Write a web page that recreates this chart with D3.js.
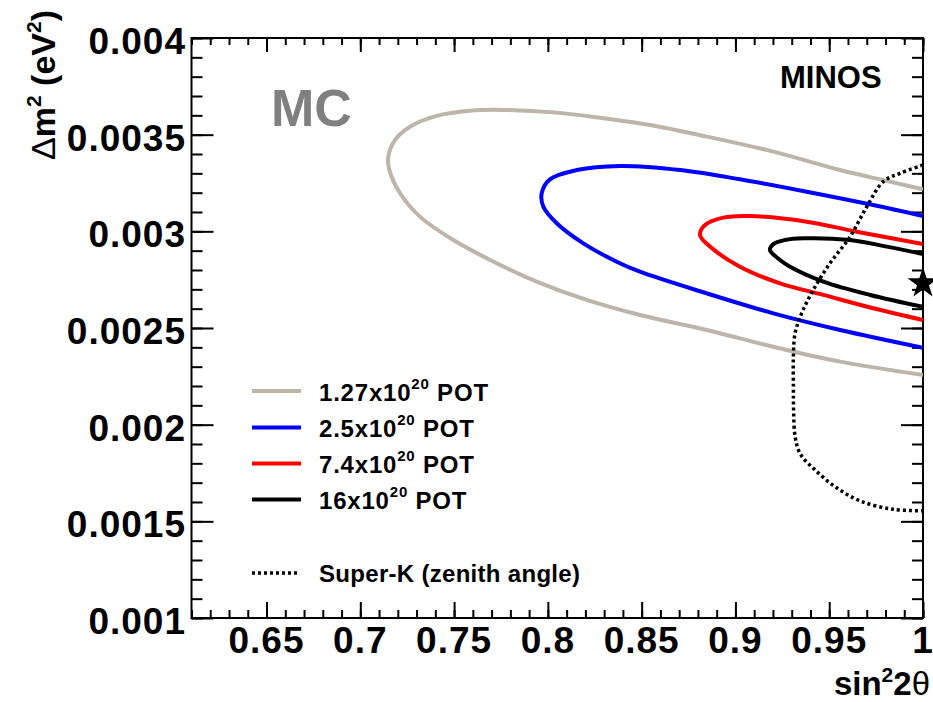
<!DOCTYPE html>
<html>
<head>
<meta charset="utf-8">
<script src="https://cdn.jsdelivr.net/npm/d3@7"></script>
<style>
  body { margin: 0; background: #fff; }
  svg { display: block; font-family: "Liberation Sans", Arial, Helvetica, sans-serif; font-weight: bold; }
</style>
</head>
<body>
<svg id="chart" width="933" height="702"></svg>
<script>
// axis ticks
const xMajor = [0.65, 0.7, 0.75, 0.8, 0.85, 0.9, 0.95, 1]
const xLabels = ['0.65', '0.7', '0.75', '0.8', '0.85', '0.9', '0.95', '1']
const yMajor = [0.001, 0.0015, 0.002, 0.0025, 0.003, 0.0035, 0.004]
const yLabels = ['0.001', '0.0015', '0.002', '0.0025', '0.003', '0.0035', '0.004']

// contours: [sin^2 2theta, dm^2]
const pot127 = [
  [1.0, 0.003217], [0.9824, 0.003257], [0.9558, 0.003317], [0.9202, 0.003412],
  [0.8847, 0.003490], [0.8545, 0.003550], [0.8296, 0.003585], [0.8047, 0.003614],
  [0.7762, 0.003628], [0.7585, 0.003624], [0.7407, 0.003597], [0.7265, 0.003541],
  [0.7185, 0.003472], [0.7149, 0.003386], [0.7155, 0.003317], [0.7212, 0.003197],
  [0.7318, 0.003076], [0.7496, 0.002955], [0.7727, 0.002835], [0.7940, 0.002740],
  [0.8207, 0.002645], [0.8491, 0.002567], [0.8847, 0.002490], [0.9202, 0.002403],
  [0.9558, 0.002326], [1.0, 0.002257]
]
const pot25 = [
  [1.0, 0.003079], [0.9735, 0.003136], [0.9380, 0.003205], [0.9024, 0.003269],
  [0.8705, 0.003317], [0.8385, 0.003338], [0.8154, 0.003317], [0.8011, 0.003269],
  [0.7967, 0.003197], [0.7976, 0.003127], [0.8047, 0.003042], [0.8189, 0.002938],
  [0.8367, 0.002843], [0.8491, 0.002791], [0.8847, 0.002679], [0.9202, 0.002576],
  [0.9558, 0.002490], [1.0, 0.002398]
]
const pot74 = [
  [1.0, 0.002934], [0.9647, 0.002998], [0.9380, 0.003050], [0.9078, 0.003079],
  [0.8935, 0.003071], [0.8838, 0.003033], [0.8811, 0.002981], [0.8864, 0.002921],
  [0.9024, 0.002817], [0.9238, 0.002731], [0.9469, 0.002671], [0.9735, 0.002602],
  [1.0, 0.002541]
]
const pot16 = [
  [1.0, 0.002883], [0.9807, 0.002921], [0.9611, 0.002955], [0.9362, 0.002964],
  [0.9264, 0.002955], [0.9202, 0.002934], [0.9184, 0.002903], [0.9238, 0.002852],
  [0.9291, 0.002817], [0.9469, 0.002740], [0.9718, 0.002671], [1.0, 0.002610]
]
const superK = [
  [1.0, 0.003343], [0.9877, 0.003300], [0.9788, 0.003257], [0.9700, 0.003127],
  [0.9611, 0.002972], [0.9504, 0.002835], [0.9415, 0.002697], [0.9353, 0.002576],
  [0.9318, 0.002473], [0.9309, 0.002352], [0.9309, 0.002200], [0.9310, 0.002080],
  [0.9318, 0.001940], [0.9345, 0.001850], [0.9420, 0.001770], [0.9530, 0.001680],
  [0.9664, 0.001606], [0.9842, 0.001562], [1.0, 0.001555]
]
const bestFit = [1.0, 0.002731]

const seriesNames = ['1.27', '2.5', '7.4', '16']
const seriesData = [pot127, pot25, pot74, pot16]
const seriesColors = ['#bdb4aa', '#0000ff', '#ff0000', '#000000']

const margin = { top: 38, right: 10, bottom: 84, left: 191.5 }
const width = 933 - margin.left - margin.right
const height = 702 - margin.top - margin.bottom

const svg = d3.select('#chart')

const xScale = d3.scaleLinear().domain([0.61, 1]).range([margin.left, margin.left + width])
const yScale = d3.scaleLinear().domain([0.001, 0.004]).range([margin.top + height, margin.top])

const xMinor = d3.range(61, 101).map(d => d / 100)
const yMinor = d3.range(10, 41).map(d => d / 10000)

svg.append('defs').append('clipPath').attr('id', 'plotClip')
  .append('rect')
  .attr('x', margin.left).attr('y', margin.top)
  .attr('width', width).attr('height', height)

// ticks, ROOT style: pointing inside the frame
const tickGroup = (axis, tx, ty) => svg.append('g')
  .attr('transform', `translate(${tx},${ty})`)
  .call(axis)
  .call(g => g.select('.domain').remove())
  .call(g => g.selectAll('line').attr('stroke', '#000').attr('stroke-width', 2))

tickGroup(d3.axisBottom(xScale).tickValues(xMinor).tickSize(-8).tickFormat(''), 0, margin.top + height)
tickGroup(d3.axisBottom(xScale).tickValues(xMajor).tickSize(-16).tickFormat(''), 0, margin.top + height)
tickGroup(d3.axisTop(xScale).tickValues(xMinor).tickSize(-7).tickFormat(''), 0, margin.top)
tickGroup(d3.axisTop(xScale).tickValues(xMajor).tickSize(-14).tickFormat(''), 0, margin.top)
tickGroup(d3.axisLeft(yScale).tickValues(yMinor).tickSize(-11).tickFormat(''), margin.left, 0)
tickGroup(d3.axisLeft(yScale).tickValues(yMajor).tickSize(-22).tickFormat(''), margin.left, 0)
tickGroup(d3.axisRight(yScale).tickValues(yMinor).tickSize(-11).tickFormat(''), margin.left + width, 0)
tickGroup(d3.axisRight(yScale).tickValues(yMajor).tickSize(-22).tickFormat(''), margin.left + width, 0)

// tick labels
svg.append('g').selectAll('text')
  .data(xMajor)
  .enter().append('text')
  .attr('x', d => xScale(d))
  .attr('y', 653)
  .attr('text-anchor', 'middle')
  .attr('font-size', 37)
  .attr('letter-spacing', 1)
  .text((d, i) => xLabels[i])

svg.append('g').selectAll('text')
  .data(yMajor)
  .enter().append('text')
  .attr('x', 186)
  .attr('y', d => yScale(d) + 16)
  .attr('text-anchor', 'end')
  .attr('font-size', 37)
  .attr('letter-spacing', 1)
  .text((d, i) => yLabels[i])

// frame
svg.append('rect')
  .attr('x', margin.left).attr('y', margin.top)
  .attr('width', width).attr('height', height)
  .attr('fill', 'none').attr('stroke', '#000').attr('stroke-width', 2)

const line = d3.line()
  .x(d => xScale(d[0]))
  .y(d => yScale(d[1]))
  .curve(d3.curveCatmullRom)

const plot = svg.append('g').attr('clip-path', 'url(#plotClip)')

plot.selectAll('.contour')
  .data(seriesData)
  .enter().append('path')
  .attr('class', 'contour')
  .attr('d', line)
  .attr('fill', 'none')
  .attr('stroke', (d, i) => seriesColors[i])
  .attr('stroke-width', 4)

plot.append('path')
  .attr('d', line(superK))
  .attr('fill', 'none')
  .attr('stroke', '#000')
  .attr('stroke-width', 3.5)
  .attr('stroke-dasharray', '3,3')

svg.append('path')
  .attr('d', d3.symbol(d3.symbolStar, 300)())
  .attr('transform', `translate(${xScale(bestFit[0])},${yScale(bestFit[1])})`)
  .attr('fill', '#000')

// labels
svg.append('text')
  .attr('x', 271).attr('y', 126)
  .attr('font-size', 52)
  .attr('fill', '#808080')
  .text('MC')

svg.append('text')
  .attr('x', 780).attr('y', 88)
  .attr('font-size', 31)
  .text('MINOS')

// legend
const legend = svg.append('g')
const rowY = [391, 427.5, 463.5, 499.5]

seriesNames.forEach((name, i) => {
  legend.append('line')
    .attr('x1', 252).attr('x2', 301)
    .attr('y1', rowY[i]).attr('y2', rowY[i])
    .attr('stroke', seriesColors[i]).attr('stroke-width', 4)
  const t = legend.append('text')
    .attr('x', 319).attr('y', rowY[i] + 9.5)
    .attr('font-size', 24)
    .attr('letter-spacing', 0.8)
  t.append('tspan').text(name + 'x10')
  t.append('tspan').attr('font-size', 15).attr('dy', -12).text('20')
  t.append('tspan').attr('dy', 12).text(' POT')
})

legend.append('line')
  .attr('x1', 252).attr('x2', 300)
  .attr('y1', 573).attr('y2', 573)
  .attr('stroke', '#000').attr('stroke-width', 3.5)
  .attr('stroke-dasharray', '3,3')
legend.append('text')
  .attr('x', 319).attr('y', 582)
  .attr('font-size', 24)
  .attr('letter-spacing', 0.3)
  .text('Super-K (zenith angle)')

// axis titles
const xt = svg.append('text')
  .attr('x', 930).attr('y', 695)
  .attr('text-anchor', 'end')
  .attr('font-size', 33)
xt.append('tspan').text('sin')
xt.append('tspan').attr('font-size', 21).attr('dy', -13).text('2')
xt.append('tspan').attr('dy', 13).text('2')
xt.append('tspan').attr('font-weight', 'normal').text('θ')

const yt = svg.append('text')
  .attr('transform', 'translate(55,10) rotate(-90)')
  .attr('text-anchor', 'end')
  .attr('font-size', 34)
yt.append('tspan').attr('font-weight', 'normal').text('Δ')
yt.append('tspan').text('m')
yt.append('tspan').attr('font-size', 21).attr('dy', -14).text('2')
yt.append('tspan').attr('dy', 14).text(' (eV')
yt.append('tspan').attr('font-size', 21).attr('dy', -14).text('2')
yt.append('tspan').attr('dy', 14).text(')')
</script>
</body>
</html>
